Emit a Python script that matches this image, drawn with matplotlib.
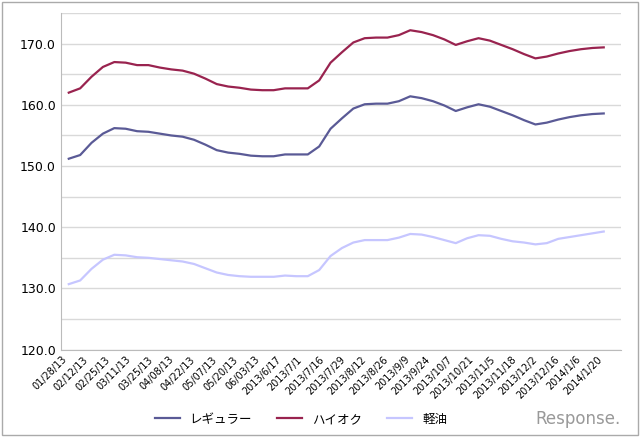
import matplotlib.pyplot as plt
from matplotlib.ticker import MultipleLocator

plt.rcParams['font.family'] = ['DejaVu Sans', 'Noto Sans CJK JP']

labels = ['01/28/13', '02/12/13', '02/25/13', '03/11/13', '03/25/13', '04/08/13',
          '04/22/13', '05/07/13', '05/20/13', '06/03/13', '2013/6/17', '2013/7/1',
          '2013/7/16', '2013/7/29', '2013/8/12', '2013/8/26', '2013/9/9', '2013/9/24',
          '2013/10/7', '2013/10/21', '2013/11/5', '2013/11/18', '2013/12/2',
          '2013/12/16', '2014/1/6', '2014/1/20']

haioku = [162.0, 162.7, 164.6, 166.2, 167.0, 166.9, 166.5, 166.5, 166.1, 165.8,
          165.6, 165.1, 164.3, 163.4, 163.0, 162.8, 162.5, 162.4, 162.4, 162.7,
          162.7, 162.7, 164.0, 166.9, 168.6, 170.2, 170.9, 171.0, 171.0, 171.4,
          172.2, 171.9, 171.4, 170.7, 169.8, 170.4, 170.9, 170.5, 169.8, 169.1,
          168.3, 167.6, 167.9, 168.4, 168.8, 169.1, 169.3, 169.4]
regular = [151.2, 151.8, 153.8, 155.3, 156.2, 156.1, 155.7, 155.6, 155.3, 155.0,
           154.8, 154.3, 153.5, 152.6, 152.2, 152.0, 151.7, 151.6, 151.6, 151.9,
           151.9, 151.9, 153.2, 156.1, 157.8, 159.4, 160.1, 160.2, 160.2, 160.6,
           161.4, 161.1, 160.6, 159.9, 159.0, 159.6, 160.1, 159.7, 159.0, 158.3,
           157.5, 156.8, 157.1, 157.6, 158.0, 158.3, 158.5, 158.6]
keiyu = [130.7, 131.3, 133.2, 134.7, 135.5, 135.4, 135.1, 135.0, 134.8, 134.6,
         134.4, 134.0, 133.3, 132.6, 132.2, 132.0, 131.9, 131.9, 131.9, 132.1,
         132.0, 132.0, 133.0, 135.3, 136.6, 137.5, 137.9, 137.9, 137.9, 138.3,
         138.9, 138.8, 138.4, 137.9, 137.4, 138.2, 138.7, 138.6, 138.1, 137.7,
         137.5, 137.2, 137.4, 138.1, 138.4, 138.7, 139.0, 139.3]

x = list(range(len(haioku)))
tick_pos = [i * 47 / (len(labels) - 1) for i in range(len(labels))]

fig = plt.figure(figsize=(6.4, 4.37), dpi=100)
ax = fig.add_axes([0.095, 0.2, 0.875, 0.77])
ax.plot(x, regular, color='#5a5a96', lw=1.6, label='レギュラー')
ax.plot(x, haioku, color='#99234f', lw=1.6, label='ハイオク')
ax.plot(x, keiyu, color='#c6c6ff', lw=1.6, label='軽油')

ax.set_ylim(120, 175)
ax.set_xlim(-0.7, 48.5)
ax.yaxis.set_major_locator(MultipleLocator(10))
ax.yaxis.set_minor_locator(MultipleLocator(5))
ax.grid(axis='y', which='both', color='#d9d9d9', lw=1)
ax.set_axisbelow(True)
ax.set_yticklabels(['%.1f' % v for v in ax.get_yticks()], fontsize=9)
ax.set_xticks(tick_pos)
ax.set_xticklabels(labels, rotation=45, ha='right', fontsize=7)
ax.tick_params(which='both', length=0)
for s in ['top', 'right']:
    ax.spines[s].set_visible(False)
ax.spines['left'].set_color('#bbbbbb')
ax.spines['bottom'].set_color('#bbbbbb')

fig.legend(loc='lower center', bbox_to_anchor=(0.47, 0.0), ncol=3, frameon=False,
           fontsize=9, handlelength=2)
fig.text(0.97, 0.03, 'Response.', ha='right', fontsize=12, color='#999999')
fig.patches.append(plt.Rectangle((0.003, 0.005), 0.994, 0.99, transform=fig.transFigure,
                                 fill=False, edgecolor='#aaaaaa', lw=1))
fig.savefig('out.png')
